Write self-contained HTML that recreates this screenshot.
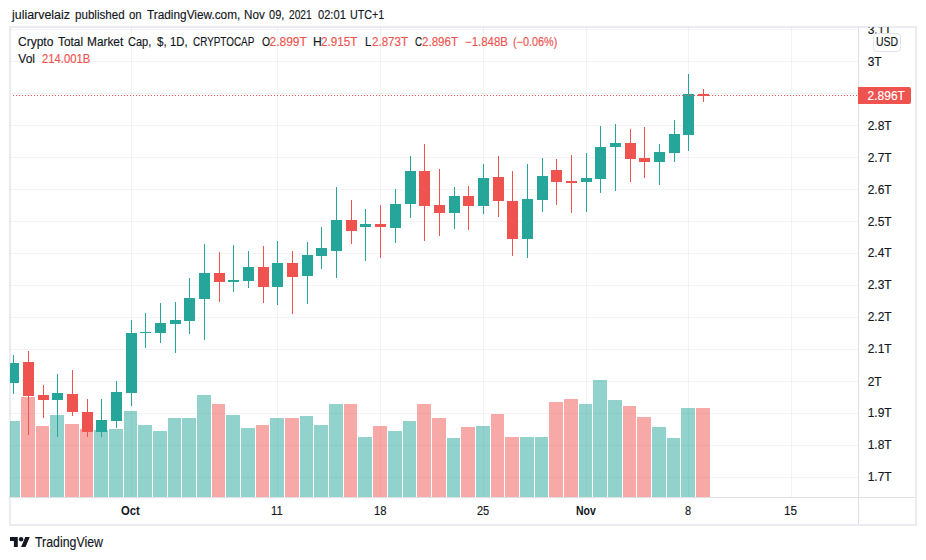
<!DOCTYPE html>
<html><head><meta charset="utf-8"><style>
html,body{margin:0;padding:0;background:#fff;}
body{width:926px;height:560px;position:relative;overflow:hidden;font-family:"Liberation Sans",sans-serif;color:#131722;-webkit-text-stroke:0.15px currentColor;}
#frame{position:absolute;left:9px;top:26px;width:904px;height:496px;border:2px solid rgb(235,236,241);}
svg{position:absolute;left:0;top:0;}
.al{position:absolute;left:867.7px;font-size:12px;line-height:16px;height:16px;white-space:nowrap;}
.w{position:absolute;line-height:14px;white-space:nowrap;-webkit-text-stroke:0.15px currentColor;}
#plabel{position:absolute;left:858px;top:87px;width:53px;height:17px;background:#ef5350;border-radius:0 2px 2px 0;}
#ptext{position:absolute;left:867.6px;top:88px;font-size:12px;line-height:17px;color:#fff;white-space:nowrap;}
#usd{position:absolute;left:873px;top:33px;width:26px;height:17px;border:1px solid #e0e3eb;border-radius:4px;background:#fff;}
#usdt{position:absolute;left:876.3px;top:34px;font-size:12px;line-height:17px;transform:scaleX(0.87);transform-origin:0 0;}
#tvlogo{position:absolute;left:10px;top:534px;}
</style></head><body>
<div id="frame"></div>
<svg width="926" height="560" viewBox="0 0 926 560" shape-rendering="crispEdges">
<rect x="858" y="27" width="1" height="497" fill="rgb(224,224,228)"/>
<rect x="10" y="497" width="905" height="1" fill="rgb(224,224,228)"/>
<rect x="10" y="29" width="848" height="1" fill="rgba(42,46,57,0.06)"/>
<rect x="10" y="61" width="848" height="1" fill="rgba(42,46,57,0.06)"/>
<rect x="10" y="93" width="848" height="1" fill="rgba(42,46,57,0.06)"/>
<rect x="10" y="125" width="848" height="1" fill="rgba(42,46,57,0.06)"/>
<rect x="10" y="157" width="848" height="1" fill="rgba(42,46,57,0.06)"/>
<rect x="10" y="189" width="848" height="1" fill="rgba(42,46,57,0.06)"/>
<rect x="10" y="221" width="848" height="1" fill="rgba(42,46,57,0.06)"/>
<rect x="10" y="253" width="848" height="1" fill="rgba(42,46,57,0.06)"/>
<rect x="10" y="285" width="848" height="1" fill="rgba(42,46,57,0.06)"/>
<rect x="10" y="317" width="848" height="1" fill="rgba(42,46,57,0.06)"/>
<rect x="10" y="349" width="848" height="1" fill="rgba(42,46,57,0.06)"/>
<rect x="10" y="381" width="848" height="1" fill="rgba(42,46,57,0.06)"/>
<rect x="10" y="413" width="848" height="1" fill="rgba(42,46,57,0.06)"/>
<rect x="10" y="445" width="848" height="1" fill="rgba(42,46,57,0.06)"/>
<rect x="10" y="477" width="848" height="1" fill="rgba(42,46,57,0.06)"/>
<rect x="131" y="27" width="1" height="470" fill="rgba(42,46,57,0.06)"/>
<rect x="277" y="27" width="1" height="470" fill="rgba(42,46,57,0.06)"/>
<rect x="380" y="27" width="1" height="470" fill="rgba(42,46,57,0.06)"/>
<rect x="483" y="27" width="1" height="470" fill="rgba(42,46,57,0.06)"/>
<rect x="586" y="27" width="1" height="470" fill="rgba(42,46,57,0.06)"/>
<rect x="688" y="27" width="1" height="470" fill="rgba(42,46,57,0.06)"/>
<rect x="791" y="27" width="1" height="470" fill="rgba(42,46,57,0.06)"/>
<rect x="10" y="421" width="10" height="76" fill="rgba(38,166,154,0.5)"/>
<rect x="21" y="397" width="14" height="100" fill="rgba(239,83,80,0.5)"/>
<rect x="36" y="426" width="13" height="71" fill="rgba(239,83,80,0.5)"/>
<rect x="50" y="415" width="14" height="82" fill="rgba(38,166,154,0.5)"/>
<rect x="65" y="424" width="14" height="73" fill="rgba(239,83,80,0.5)"/>
<rect x="80" y="429" width="13" height="68" fill="rgba(239,83,80,0.5)"/>
<rect x="94" y="430" width="14" height="67" fill="rgba(38,166,154,0.5)"/>
<rect x="109" y="429" width="14" height="68" fill="rgba(38,166,154,0.5)"/>
<rect x="124" y="411" width="13" height="86" fill="rgba(38,166,154,0.5)"/>
<rect x="138" y="425" width="14" height="72" fill="rgba(38,166,154,0.5)"/>
<rect x="153" y="431" width="14" height="66" fill="rgba(38,166,154,0.5)"/>
<rect x="168" y="418" width="13" height="79" fill="rgba(38,166,154,0.5)"/>
<rect x="182" y="418" width="14" height="79" fill="rgba(38,166,154,0.5)"/>
<rect x="197" y="395" width="14" height="102" fill="rgba(38,166,154,0.5)"/>
<rect x="212" y="404" width="13" height="93" fill="rgba(239,83,80,0.5)"/>
<rect x="226" y="415" width="14" height="82" fill="rgba(38,166,154,0.5)"/>
<rect x="241" y="428" width="14" height="69" fill="rgba(38,166,154,0.5)"/>
<rect x="256" y="425" width="13" height="72" fill="rgba(239,83,80,0.5)"/>
<rect x="270" y="418" width="14" height="79" fill="rgba(38,166,154,0.5)"/>
<rect x="285" y="418" width="14" height="79" fill="rgba(239,83,80,0.5)"/>
<rect x="300" y="416" width="13" height="81" fill="rgba(38,166,154,0.5)"/>
<rect x="314" y="425" width="14" height="72" fill="rgba(38,166,154,0.5)"/>
<rect x="329" y="404" width="14" height="93" fill="rgba(38,166,154,0.5)"/>
<rect x="344" y="404" width="13" height="93" fill="rgba(239,83,80,0.5)"/>
<rect x="358" y="437" width="14" height="60" fill="rgba(38,166,154,0.5)"/>
<rect x="373" y="426" width="14" height="71" fill="rgba(239,83,80,0.5)"/>
<rect x="388" y="431" width="14" height="66" fill="rgba(38,166,154,0.5)"/>
<rect x="403" y="421" width="13" height="76" fill="rgba(38,166,154,0.5)"/>
<rect x="417" y="404" width="14" height="93" fill="rgba(239,83,80,0.5)"/>
<rect x="432" y="418" width="14" height="79" fill="rgba(239,83,80,0.5)"/>
<rect x="447" y="438" width="13" height="59" fill="rgba(38,166,154,0.5)"/>
<rect x="461" y="427" width="14" height="70" fill="rgba(239,83,80,0.5)"/>
<rect x="476" y="426" width="14" height="71" fill="rgba(38,166,154,0.5)"/>
<rect x="491" y="414" width="13" height="83" fill="rgba(239,83,80,0.5)"/>
<rect x="505" y="437" width="14" height="60" fill="rgba(239,83,80,0.5)"/>
<rect x="520" y="437" width="14" height="60" fill="rgba(38,166,154,0.5)"/>
<rect x="535" y="437" width="13" height="60" fill="rgba(38,166,154,0.5)"/>
<rect x="549" y="402" width="14" height="95" fill="rgba(239,83,80,0.5)"/>
<rect x="564" y="399" width="14" height="98" fill="rgba(239,83,80,0.5)"/>
<rect x="579" y="404" width="13" height="93" fill="rgba(38,166,154,0.5)"/>
<rect x="593" y="380" width="14" height="117" fill="rgba(38,166,154,0.5)"/>
<rect x="608" y="400" width="14" height="97" fill="rgba(38,166,154,0.5)"/>
<rect x="623" y="406" width="13" height="91" fill="rgba(239,83,80,0.5)"/>
<rect x="637" y="417" width="14" height="80" fill="rgba(239,83,80,0.5)"/>
<rect x="652" y="427" width="14" height="70" fill="rgba(38,166,154,0.5)"/>
<rect x="667" y="438" width="13" height="59" fill="rgba(38,166,154,0.5)"/>
<rect x="681" y="408" width="14" height="89" fill="rgba(38,166,154,0.5)"/>
<rect x="696" y="408" width="14" height="89" fill="rgba(239,83,80,0.5)"/>
<rect x="13" y="355" width="1" height="39" fill="#26a69a"/>
<rect x="10" y="363" width="9" height="20" fill="#26a69a"/>
<rect x="28" y="351" width="1" height="84" fill="#ef5350"/>
<rect x="23" y="362" width="11" height="34" fill="#ef5350"/>
<rect x="43" y="385" width="1" height="33" fill="#ef5350"/>
<rect x="38" y="395" width="11" height="5" fill="#ef5350"/>
<rect x="57" y="374" width="1" height="63" fill="#26a69a"/>
<rect x="52" y="393" width="11" height="7" fill="#26a69a"/>
<rect x="72" y="370" width="1" height="46" fill="#ef5350"/>
<rect x="67" y="394" width="11" height="18" fill="#ef5350"/>
<rect x="87" y="399" width="1" height="38" fill="#ef5350"/>
<rect x="82" y="412" width="11" height="20" fill="#ef5350"/>
<rect x="101" y="399" width="1" height="38" fill="#26a69a"/>
<rect x="96" y="420" width="11" height="12" fill="#26a69a"/>
<rect x="116" y="381" width="1" height="47" fill="#26a69a"/>
<rect x="111" y="392" width="11" height="29" fill="#26a69a"/>
<rect x="131" y="320" width="1" height="86" fill="#26a69a"/>
<rect x="126" y="333" width="11" height="60" fill="#26a69a"/>
<rect x="145" y="313" width="1" height="35" fill="#26a69a"/>
<rect x="140" y="332" width="11" height="1" fill="#26a69a"/>
<rect x="160" y="303" width="1" height="40" fill="#26a69a"/>
<rect x="155" y="323" width="11" height="10" fill="#26a69a"/>
<rect x="175" y="302" width="1" height="51" fill="#26a69a"/>
<rect x="170" y="320" width="11" height="4" fill="#26a69a"/>
<rect x="189" y="278" width="1" height="56" fill="#26a69a"/>
<rect x="184" y="298" width="11" height="23" fill="#26a69a"/>
<rect x="204" y="244" width="1" height="96" fill="#26a69a"/>
<rect x="199" y="273" width="11" height="26" fill="#26a69a"/>
<rect x="219" y="252" width="1" height="50" fill="#ef5350"/>
<rect x="214" y="273" width="11" height="9" fill="#ef5350"/>
<rect x="233" y="245" width="1" height="47" fill="#26a69a"/>
<rect x="228" y="280" width="11" height="2" fill="#26a69a"/>
<rect x="248" y="251" width="1" height="37" fill="#26a69a"/>
<rect x="243" y="267" width="11" height="14" fill="#26a69a"/>
<rect x="263" y="246" width="1" height="57" fill="#ef5350"/>
<rect x="258" y="267" width="11" height="20" fill="#ef5350"/>
<rect x="277" y="241" width="1" height="64" fill="#26a69a"/>
<rect x="272" y="263" width="11" height="24" fill="#26a69a"/>
<rect x="292" y="251" width="1" height="63" fill="#ef5350"/>
<rect x="287" y="263" width="11" height="14" fill="#ef5350"/>
<rect x="307" y="242" width="1" height="62" fill="#26a69a"/>
<rect x="302" y="255" width="11" height="21" fill="#26a69a"/>
<rect x="321" y="227" width="1" height="42" fill="#26a69a"/>
<rect x="316" y="248" width="11" height="8" fill="#26a69a"/>
<rect x="336" y="187" width="1" height="91" fill="#26a69a"/>
<rect x="331" y="220" width="11" height="31" fill="#26a69a"/>
<rect x="351" y="200" width="1" height="44" fill="#ef5350"/>
<rect x="346" y="220" width="11" height="11" fill="#ef5350"/>
<rect x="365" y="209" width="1" height="52" fill="#26a69a"/>
<rect x="360" y="224" width="11" height="3" fill="#26a69a"/>
<rect x="380" y="205" width="1" height="53" fill="#ef5350"/>
<rect x="375" y="224" width="11" height="3" fill="#ef5350"/>
<rect x="395" y="189" width="1" height="54" fill="#26a69a"/>
<rect x="390" y="204" width="11" height="24" fill="#26a69a"/>
<rect x="410" y="156" width="1" height="62" fill="#26a69a"/>
<rect x="405" y="171" width="11" height="33" fill="#26a69a"/>
<rect x="424" y="144" width="1" height="97" fill="#ef5350"/>
<rect x="419" y="171" width="11" height="35" fill="#ef5350"/>
<rect x="439" y="169" width="1" height="67" fill="#ef5350"/>
<rect x="434" y="205" width="11" height="8" fill="#ef5350"/>
<rect x="454" y="187" width="1" height="42" fill="#26a69a"/>
<rect x="449" y="196" width="11" height="17" fill="#26a69a"/>
<rect x="468" y="186" width="1" height="44" fill="#ef5350"/>
<rect x="463" y="196" width="11" height="10" fill="#ef5350"/>
<rect x="483" y="164" width="1" height="50" fill="#26a69a"/>
<rect x="478" y="178" width="11" height="28" fill="#26a69a"/>
<rect x="498" y="156" width="1" height="61" fill="#ef5350"/>
<rect x="493" y="177" width="11" height="24" fill="#ef5350"/>
<rect x="512" y="171" width="1" height="85" fill="#ef5350"/>
<rect x="507" y="201" width="11" height="38" fill="#ef5350"/>
<rect x="527" y="164" width="1" height="94" fill="#26a69a"/>
<rect x="522" y="199" width="11" height="40" fill="#26a69a"/>
<rect x="542" y="158" width="1" height="54" fill="#26a69a"/>
<rect x="537" y="176" width="11" height="24" fill="#26a69a"/>
<rect x="556" y="159" width="1" height="46" fill="#ef5350"/>
<rect x="551" y="170" width="11" height="12" fill="#ef5350"/>
<rect x="571" y="155" width="1" height="58" fill="#ef5350"/>
<rect x="566" y="181" width="11" height="2" fill="#ef5350"/>
<rect x="586" y="153" width="1" height="59" fill="#26a69a"/>
<rect x="581" y="178" width="11" height="4" fill="#26a69a"/>
<rect x="600" y="126" width="1" height="67" fill="#26a69a"/>
<rect x="595" y="147" width="11" height="32" fill="#26a69a"/>
<rect x="615" y="124" width="1" height="67" fill="#26a69a"/>
<rect x="610" y="143" width="11" height="4" fill="#26a69a"/>
<rect x="630" y="129" width="1" height="53" fill="#ef5350"/>
<rect x="625" y="143" width="11" height="16" fill="#ef5350"/>
<rect x="644" y="127" width="1" height="51" fill="#ef5350"/>
<rect x="639" y="158" width="11" height="4" fill="#ef5350"/>
<rect x="659" y="144" width="1" height="41" fill="#26a69a"/>
<rect x="654" y="152" width="11" height="10" fill="#26a69a"/>
<rect x="674" y="120" width="1" height="42" fill="#26a69a"/>
<rect x="669" y="134" width="11" height="19" fill="#26a69a"/>
<rect x="688" y="74" width="1" height="77" fill="#26a69a"/>
<rect x="683" y="94" width="11" height="41" fill="#26a69a"/>
<rect x="703" y="89" width="1" height="13" fill="#ef5350"/>
<rect x="698" y="94" width="11" height="2" fill="#ef5350"/>
<line x1="11" y1="95.5" x2="858" y2="95.5" stroke="#ef5350" stroke-width="1" stroke-dasharray="1 2" stroke-dashoffset="-2"/>
</svg>
<div class="w" style="left:11.54px;top:8px;font-size:12px;font-weight:400;color:#131722;transform:scaleX(1.035);transform-origin:0 0;">juliarvelaiz</div>
<div class="w" style="left:74.70px;top:8px;font-size:12px;font-weight:400;color:#131722;transform:scaleX(0.965);transform-origin:0 0;">published</div>
<div class="w" style="left:129.00px;top:8px;font-size:12px;font-weight:400;color:#131722;transform:scaleX(0.954);transform-origin:0 0;">on</div>
<div class="w" style="left:146.50px;top:8px;font-size:12px;font-weight:400;color:#131722;transform:scaleX(0.985);transform-origin:0 0;">TradingView.com,</div>
<div class="w" style="left:243.83px;top:8px;font-size:12px;font-weight:400;color:#131722;transform:scaleX(0.970);transform-origin:0 0;">Nov</div>
<div class="w" style="left:268.50px;top:8px;font-size:12px;font-weight:400;color:#131722;transform:scaleX(0.919);transform-origin:0 0;">09,</div>
<div class="w" style="left:288.80px;top:8px;font-size:12px;font-weight:400;color:#131722;transform:scaleX(0.848);transform-origin:0 0;">2021</div>
<div class="w" style="left:317.60px;top:8px;font-size:12px;font-weight:400;color:#131722;transform:scaleX(0.927);transform-origin:0 0;">02:01</div>
<div class="w" style="left:349.71px;top:8px;font-size:12px;font-weight:400;color:#131722;transform:scaleX(0.895);transform-origin:0 0;">UTC+1</div>
<div class="w" style="left:18.00px;top:35px;font-size:12px;font-weight:400;color:#131722;">Crypto</div>
<div class="w" style="left:58.10px;top:35px;font-size:12px;font-weight:400;color:#131722;transform:scaleX(0.988);transform-origin:0 0;">Total</div>
<div class="w" style="left:86.71px;top:35px;font-size:12px;font-weight:400;color:#131722;transform:scaleX(0.989);transform-origin:0 0;">Market</div>
<div class="w" style="left:128.20px;top:35px;font-size:12px;font-weight:400;color:#131722;transform:scaleX(0.916);transform-origin:0 0;">Cap,</div>
<div class="w" style="left:156.70px;top:35px;font-size:12px;font-weight:400;color:#131722;transform:scaleX(0.967);transform-origin:0 0;">$,</div>
<div class="w" style="left:170.06px;top:35px;font-size:12px;font-weight:400;color:#131722;transform:scaleX(0.941);transform-origin:0 0;">1D,</div>
<div class="w" style="left:192.60px;top:35px;font-size:12px;font-weight:400;color:#131722;transform:scaleX(0.826);transform-origin:0 0;">CRYPTOCAP</div>
<div class="w" style="left:261.50px;top:35px;font-size:12px;font-weight:400;color:#131722;transform:scaleX(0.867);transform-origin:0 0;">O</div>
<div class="w" style="left:269.50px;top:35px;font-size:12px;font-weight:400;color:#ef5350;">2.899T</div>
<div class="w" style="left:312.99px;top:35px;font-size:12px;font-weight:400;color:#131722;transform:scaleX(1.014);transform-origin:0 0;">H</div>
<div class="w" style="left:321.30px;top:35px;font-size:12px;font-weight:400;color:#ef5350;transform:scaleX(0.976);transform-origin:0 0;">2.915T</div>
<div class="w" style="left:364.87px;top:35px;font-size:12px;font-weight:400;color:#131722;transform:scaleX(0.933);transform-origin:0 0;">L</div>
<div class="w" style="left:371.70px;top:35px;font-size:12px;font-weight:400;color:#ef5350;transform:scaleX(0.962);transform-origin:0 0;">2.873T</div>
<div class="w" style="left:415.10px;top:35px;font-size:12px;font-weight:400;color:#131722;transform:scaleX(0.820);transform-origin:0 0;">C</div>
<div class="w" style="left:422.20px;top:35px;font-size:12px;font-weight:400;color:#ef5350;transform:scaleX(0.962);transform-origin:0 0;">2.896T</div>
<div class="w" style="left:465.25px;top:35px;font-size:12px;font-weight:400;color:#ef5350;transform:scaleX(0.955);transform-origin:0 0;">&minus;1.848B</div>
<div class="w" style="left:512.90px;top:35px;font-size:12px;font-weight:400;color:#ef5350;transform:scaleX(0.904);transform-origin:0 0;">(&minus;0.06%)</div>
<div class="w" style="left:18.30px;top:52px;font-size:12px;font-weight:400;color:#131722;">Vol</div>
<div class="w" style="left:41.75px;top:52px;font-size:12px;font-weight:400;color:#ef5350;transform:scaleX(0.942);transform-origin:0 0;">214.001B</div>
<div class="w" style="left:121.30px;top:504px;font-size:12px;font-weight:700;color:#131722;transform:scaleX(0.940);transform-origin:0 0;-webkit-text-stroke:0;">Oct</div>
<div class="w" style="left:270.96px;top:504px;font-size:12px;font-weight:400;color:#131722;transform:scaleX(0.936);transform-origin:0 0;">11</div>
<div class="w" style="left:373.97px;top:504px;font-size:12px;font-weight:400;color:#131722;transform:scaleX(0.933);transform-origin:0 0;">18</div>
<div class="w" style="left:476.70px;top:504px;font-size:12px;font-weight:400;color:#131722;transform:scaleX(0.915);transform-origin:0 0;">25</div>
<div class="w" style="left:575.70px;top:504px;font-size:12px;font-weight:700;color:#131722;transform:scaleX(0.874);transform-origin:0 0;-webkit-text-stroke:0;">Nov</div>
<div class="w" style="left:684.70px;top:504px;font-size:12px;font-weight:400;color:#131722;transform:scaleX(0.914);transform-origin:0 0;">8</div>
<div class="w" style="left:784.42px;top:504px;font-size:12px;font-weight:400;color:#131722;transform:scaleX(0.975);transform-origin:0 0;">15</div>
<div class="w" style="left:34.70px;top:535px;font-size:14px;font-weight:400;color:#131722;transform:scaleX(0.882);transform-origin:0 0;">TradingView</div>
<div style="position:absolute;left:0;top:27px;width:915px;height:470px;overflow:hidden">
<div class="al" style="top:-5px">3.1T</div>
<div class="al" style="top:27px">3T</div>
<div class="al" style="top:91px">2.8T</div>
<div class="al" style="top:123px">2.7T</div>
<div class="al" style="top:155px">2.6T</div>
<div class="al" style="top:187px">2.5T</div>
<div class="al" style="top:218px">2.4T</div>
<div class="al" style="top:250px">2.3T</div>
<div class="al" style="top:282px">2.2T</div>
<div class="al" style="top:314px">2.1T</div>
<div class="al" style="top:347px">2T</div>
<div class="al" style="top:378px">1.9T</div>
<div class="al" style="top:410px">1.8T</div>
<div class="al" style="top:442px">1.7T</div>
</div>
<div id="usd"></div><div id="usdt">USD</div>
<div id="plabel"></div><div id="ptext">2.896T</div>
<svg id="tvlogo" width="20" height="14" viewBox="0 4 36 18" style="left:10px;top:537px;width:20px;height:10px"><path fill="#131722" d="M14 22H7V11H0V4h14v18zM28 22h-8l7.5-18h8L28 22z"/><circle fill="#131722" cx="20" cy="8" r="4"/></svg>
</body></html>
